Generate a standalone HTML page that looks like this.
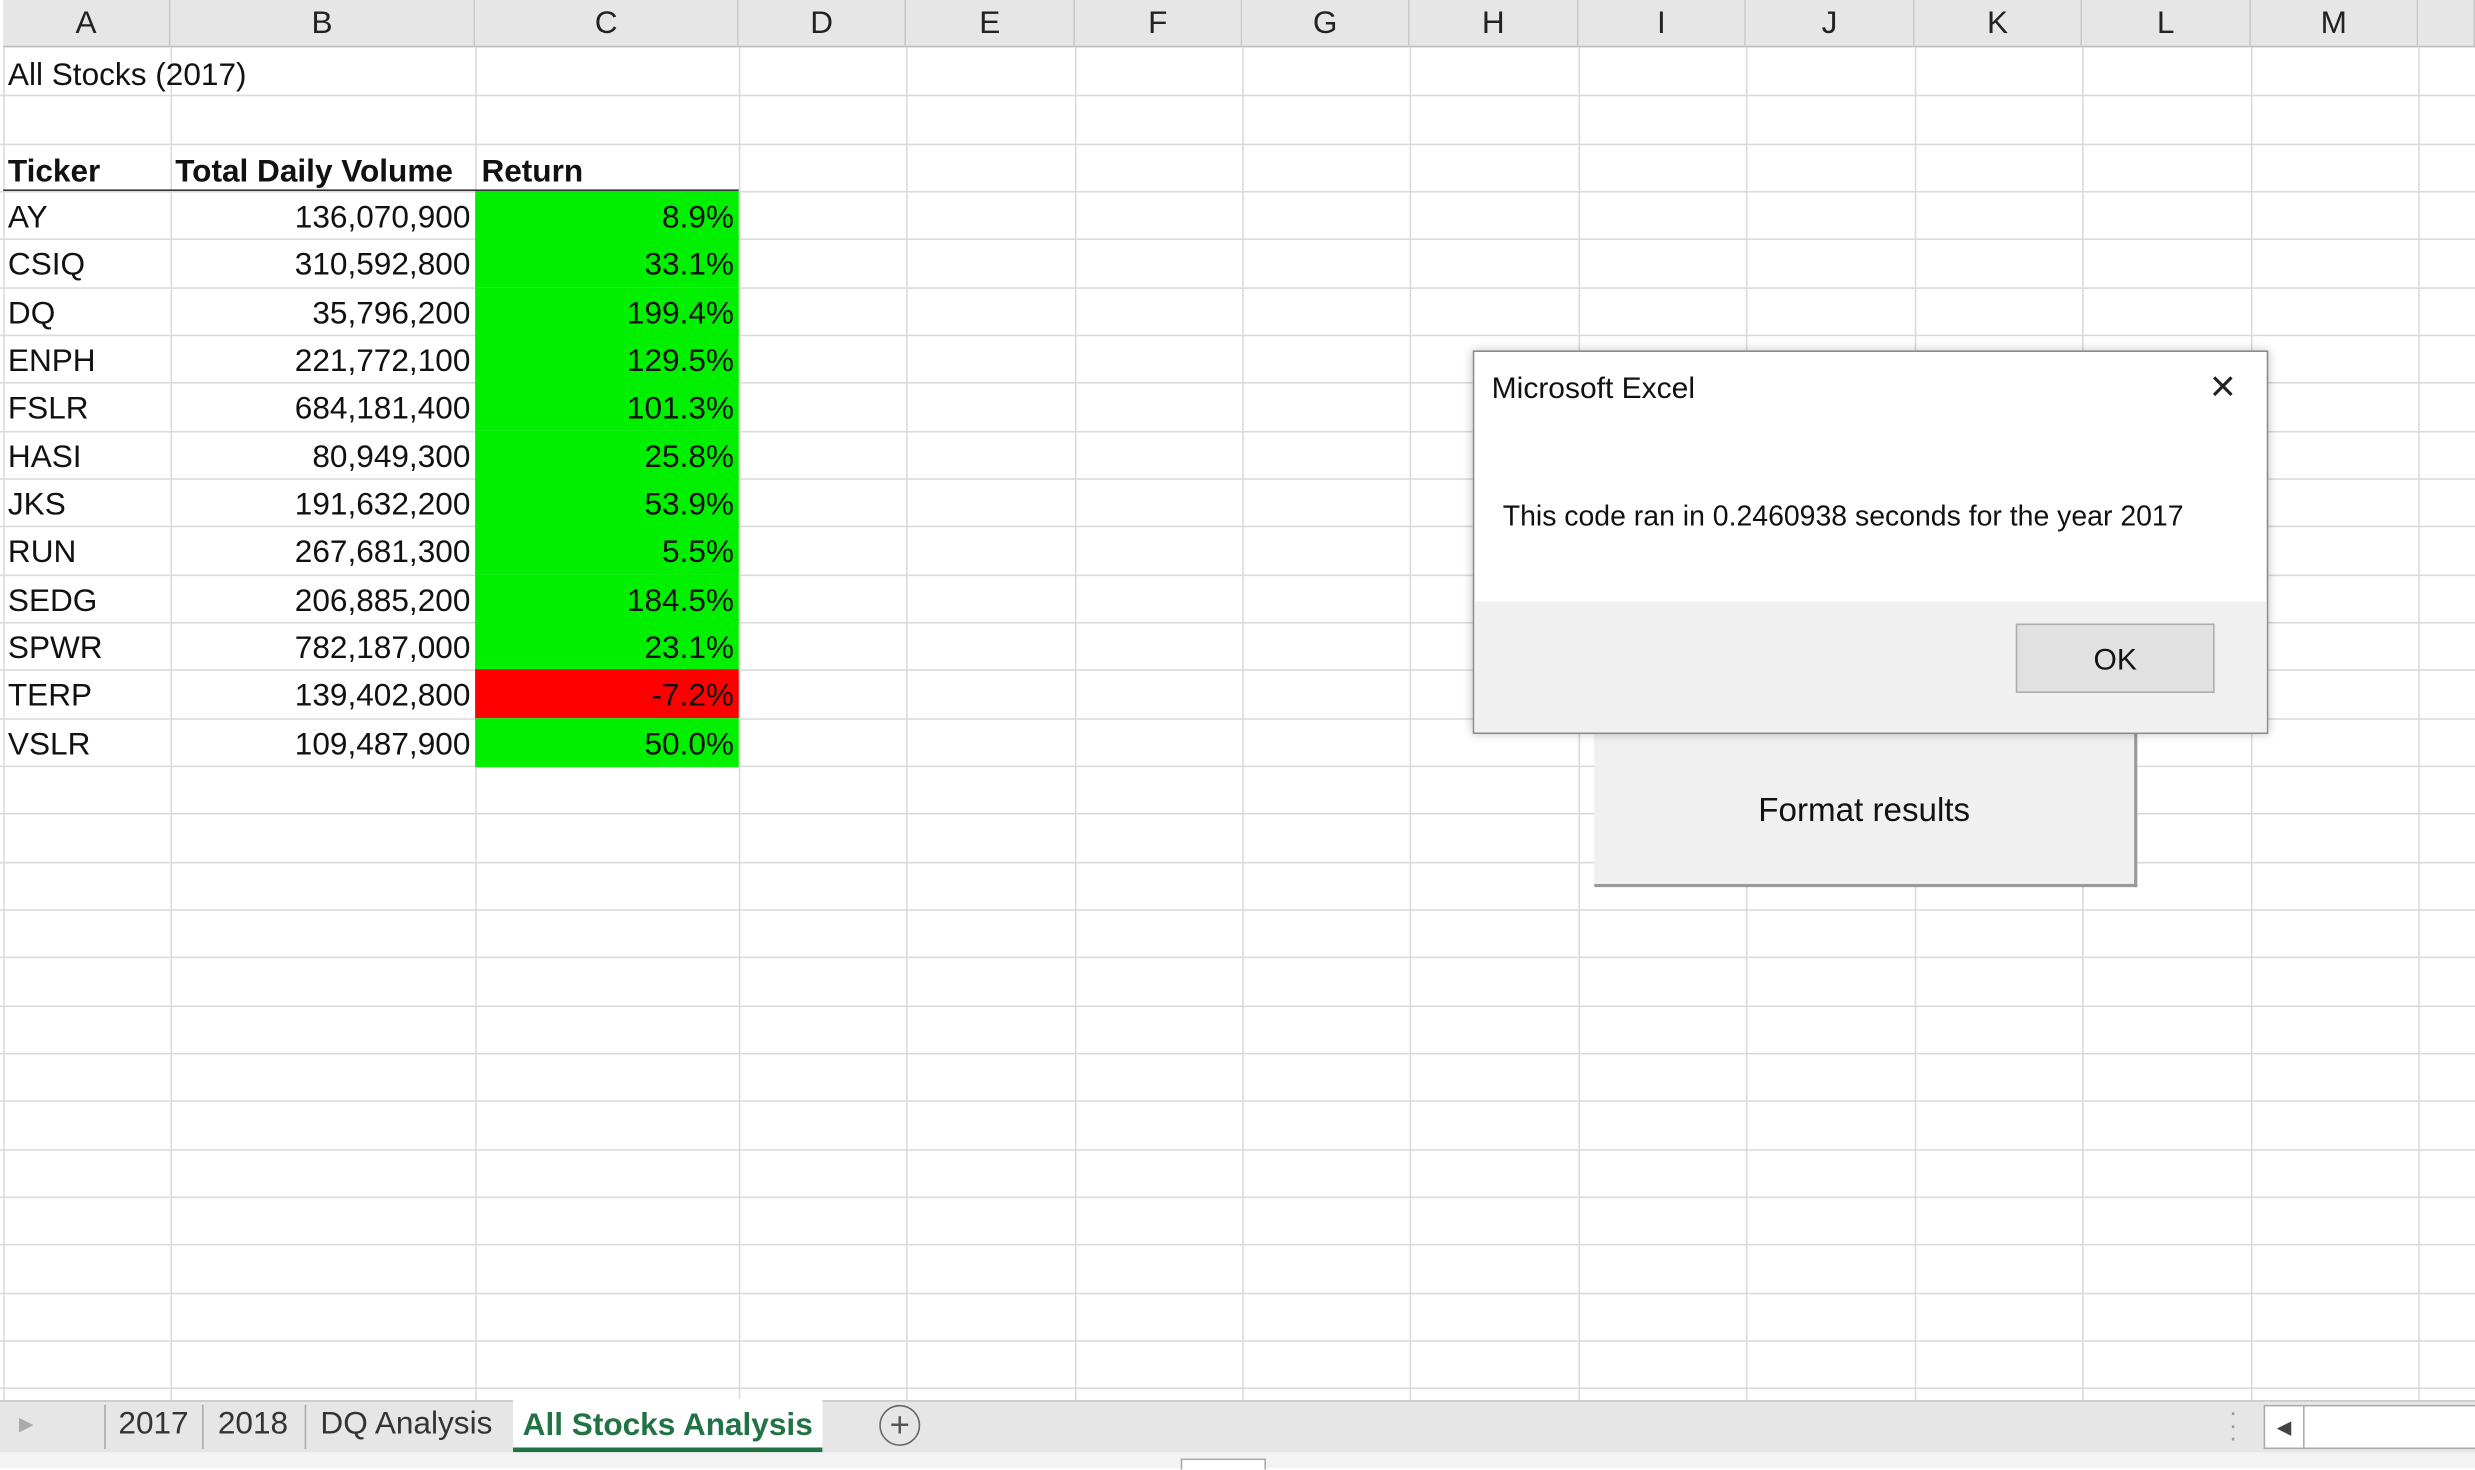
<!DOCTYPE html>
<html><head><meta charset="utf-8"><style>
body{margin:0;width:2475px;height:1468px;overflow:hidden;background:#fff;font-family:"Liberation Sans","DejaVu Sans",sans-serif;}
#w{position:absolute;left:0;top:0;width:1568px;height:930px;transform:scale(1.5785);transform-origin:0 0;background:#fff;}
.a{position:absolute;}
.hdr{position:absolute;top:0;height:29px;background:#e6e6e6;border-right:1px solid #c8c8c8;border-bottom:1px solid #bdbdbd;text-align:center;font-size:20px;line-height:31px;color:#222;}
.vl{position:absolute;top:30px;width:1px;height:857px;background:#dadada;}
.hl{position:absolute;left:0;width:1568px;height:1px;background:#dadada;}
.c{position:absolute;height:30px;line-height:34px;font-size:20px;color:#111;white-space:nowrap;}
.r{text-align:right;}
</style></head><body><div id="w">
<div id="grid"></div>
<script>
const cols=['A','B','C','D','E','F','G','H','I','J','K','L','M'];
const edges=[2,108,301,468,574,681,787,893,1000,1106,1213,1319,1426,1532,1568];
const g=document.getElementById('grid');
for(let i=0;i<edges.length-1;i++){
 const h=document.createElement('div');h.className='hdr';
 h.style.left=edges[i]+'px';h.style.width=(edges[i+1]-edges[i]-1)+'px';
 h.textContent=cols[i]||'';
 
 
 g.appendChild(h);
 const v=document.createElement('div');v.className='vl';v.style.left=edges[i]+'px';g.appendChild(v);
}
for(let r=1;r<30;r++){const y=30+r*30.33;if(y>885)break;const l=document.createElement('div');l.className='hl';l.style.top=Math.round(y)+'px';g.appendChild(l);}
const tickers=['AY','CSIQ','DQ','ENPH','FSLR','HASI','JKS','RUN','SEDG','SPWR','TERP','VSLR'];
const volumes=['136,070,900','310,592,800','35,796,200','221,772,100','684,181,400','80,949,300','191,632,200','267,681,300','206,885,200','782,187,000','139,402,800','109,487,900'];
const returns=[8.9,33.1,199.4,129.5,101.3,25.8,53.9,5.5,184.5,23.1,-7.2,50.0];
function cell(x,y,w,t,cls,name,bg,bold){const d=document.createElement('div');d.className='c '+(cls||'');d.style.left=x+'px';d.style.top=y+'px';d.style.width=w+'px';d.textContent=t;if(bg){d.style.background=bg;}if(bold)d.style.fontWeight='bold';


g.appendChild(d);return d;}
cell(5,31,300,'All Stocks (2017)','','title-cell');
cell(5,92,100,'Ticker','','ticker-header',null,true);
cell(111,92,190,'Total Daily Volume','','volume-header',null,true);
cell(305,92,160,'Return','','return-header',null,true);
const hl=document.createElement('div');hl.className='hl';hl.style.top='120px';hl.style.left='2px';hl.style.width='466px';hl.style.background='#333';g.appendChild(hl);
for(let i=0;i<tickers.length;i++){const y=Math.round(121+i*30.33);
 cell(5,y,100,tickers[i],'','ticker-'+tickers[i].toLowerCase());
 cell(108,y,190,volumes[i],'r','volume-'+tickers[i].toLowerCase());
 const d=cell(301,y,167,returns[i].toFixed(1)+'%','r','return-'+tickers[i].toLowerCase(),returns[i]>=0?'#00f000':'#ff0000');
 d.style.paddingRight='3px';d.style.boxSizing='border-box';d.style.height='31px';
}
</script>
<div class="a" style="left:1010px;top:462px;width:342px;height:98px;background:#f0f0f0;border-right:2px solid #9a9a9a;border-bottom:2px solid #9a9a9a;text-align:center;line-height:104px;font-size:21px;color:#111;">Format results</div>
<div class="a" style="left:933px;top:222px;width:502px;height:241px;background:#fff;border:1px solid #8a8a8a;box-shadow:0 0 6px rgba(0,0,0,.25);">
 <div class="a" style="left:11px;top:13px;font-size:19px;color:#111;">Microsoft Excel</div>
 <div class="a" style="left:466px;top:6px;font-size:28px;font-weight:300;color:#222;">×</div>
 <div class="a" style="left:18px;top:94px;font-size:18px;color:#111;">This code ran in 0.2460938 seconds for the year 2017</div>
 <div class="a" style="left:0;top:158px;width:502px;height:83px;background:#f0f0f0;"></div>
 <div class="a" style="left:343px;top:172px;width:124px;height:42px;background:#e1e1e1;border:1px solid #adadad;text-align:center;line-height:46px;font-size:19px;color:#111;">OK</div>
</div>
<div class="a" style="left:0;top:887px;width:1568px;height:33px;background:#e6e6e6;border-top:1px solid #c8c8c8;"></div>
<div class="a" style="left:12px;top:895px;font-size:12px;color:#aaa;">▶</div>
<div class="a" style="left:66px;top:890px;width:1px;height:28px;background:#aaa"></div>
<div class="a" style="left:75px;top:891px;font-size:20px;color:#333;">2017</div>
<div class="a" style="left:128px;top:890px;width:1px;height:28px;background:#aaa"></div>
<div class="a" style="left:138px;top:891px;font-size:20px;color:#333;">2018</div>
<div class="a" style="left:193px;top:890px;width:1px;height:28px;background:#aaa"></div>
<div class="a" style="left:203px;top:891px;font-size:20px;color:#333;">DQ Analysis</div>
<div class="a" style="left:325px;top:886px;width:196px;height:31px;background:#fff;border-bottom:3px solid #217346;text-align:center;font-size:20px;font-weight:bold;color:#217346;line-height:34px;">All Stocks Analysis</div>
<div class="a" style="left:557px;top:890px;width:24px;height:24px;border:1.5px solid #666;border-radius:50%;text-align:center;line-height:24px;font-size:22px;color:#555;">+</div>
<div class="a" style="left:1412px;top:892px;font-size:16px;color:#999;line-height:8px;">·<br>·<br>·</div>
<div class="a" style="left:1434px;top:890px;width:134px;height:26px;background:#fff;border:1px solid #aaa;"><div style="position:absolute;left:0;top:0;width:24px;height:26px;border-right:1px solid #aaa;text-align:center;line-height:26px;font-size:12px;color:#444;">◀</div></div>
<div class="a" style="left:0;top:920px;width:1568px;height:10px;background:#f3f3f3;"></div>
<div class="a" style="left:748px;top:924px;width:52px;height:6px;border:1px solid #aaa;border-bottom:none;background:#fff"></div>
</div></body></html>
